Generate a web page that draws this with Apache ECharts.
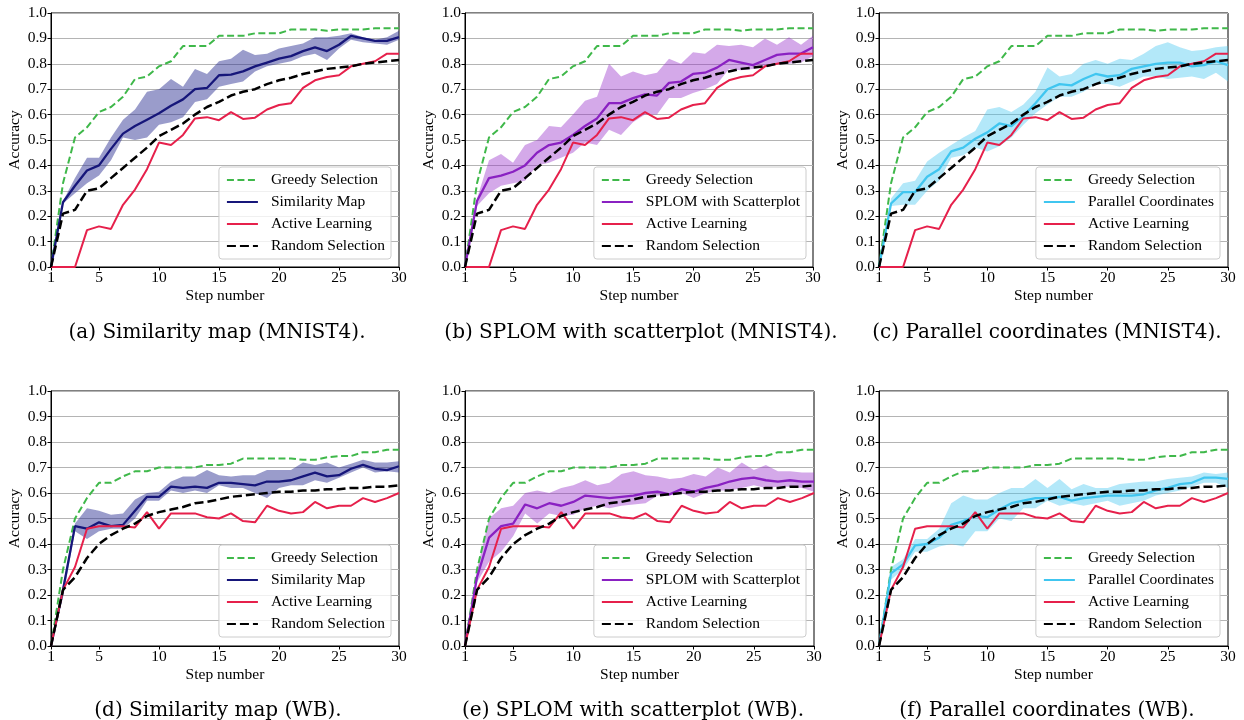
<!DOCTYPE html>
<html>
<head>
<meta charset="utf-8">
<script src="https://cdn.jsdelivr.net/npm/echarts@6/dist/echarts.min.js"></script>
<style>
html,body{margin:0;padding:0;background:#fff;}
#chart{width:1244px;height:720px;}
</style>
</head>
<body>
<div id="chart"></div>
<script>
// ---------- DATA ----------
const steps = [1,2,3,4,5,6,7,8,9,10,11,12,13,14,15,16,17,18,19,20,21,22,23,24,25,26,27,28,29,30];
const xTicks = [1,5,10,15,20,25,30];

// MNIST4 shared baselines
const greedyMNIST = [0,0.33,0.51,0.55,0.61,0.63,0.67,0.74,0.75,0.79,0.81,0.87,0.87,0.87,0.91,0.91,0.91,0.92,0.92,0.92,0.935,0.935,0.935,0.93,0.935,0.935,0.935,0.94,0.94,0.94];
const activeMNIST = [0,0,0,0.145,0.16,0.15,0.245,0.305,0.385,0.49,0.48,0.52,0.585,0.59,0.578,0.61,0.583,0.588,0.62,0.638,0.645,0.705,0.735,0.748,0.755,0.79,0.80,0.81,0.84,0.84];
const randomMNIST = [0,0.21,0.225,0.30,0.31,0.35,0.39,0.43,0.47,0.515,0.54,0.565,0.60,0.63,0.65,0.675,0.69,0.70,0.72,0.735,0.745,0.76,0.77,0.78,0.785,0.79,0.80,0.805,0.81,0.815];

// (a) Similarity map MNIST4
const simMNIST   = [0,0.255,0.32,0.38,0.40,0.465,0.525,0.555,0.58,0.605,0.635,0.66,0.70,0.705,0.755,0.757,0.77,0.79,0.805,0.82,0.83,0.85,0.865,0.85,0.875,0.91,0.90,0.89,0.89,0.905];
const simMNISTLo = [0,0.25,0.29,0.33,0.36,0.42,0.51,0.50,0.51,0.56,0.57,0.59,0.65,0.66,0.71,0.72,0.73,0.77,0.79,0.80,0.81,0.83,0.84,0.815,0.86,0.895,0.885,0.88,0.875,0.895];
const simMNISTHi = [0,0.26,0.35,0.43,0.43,0.51,0.58,0.62,0.69,0.70,0.74,0.71,0.78,0.76,0.81,0.82,0.855,0.835,0.84,0.86,0.87,0.88,0.905,0.905,0.91,0.92,0.905,0.895,0.905,0.93];

// (b) SPLOM MNIST4
const splomMNIST   = [0,0.26,0.35,0.36,0.375,0.40,0.45,0.48,0.49,0.52,0.555,0.585,0.645,0.645,0.665,0.68,0.675,0.725,0.73,0.76,0.765,0.785,0.815,0.805,0.795,0.815,0.835,0.84,0.84,0.865];
const splomMNISTLo = [0,0.24,0.29,0.32,0.33,0.34,0.40,0.41,0.43,0.45,0.49,0.48,0.54,0.52,0.57,0.60,0.60,0.665,0.665,0.685,0.70,0.72,0.78,0.775,0.78,0.79,0.80,0.80,0.805,0.83];
const splomMNISTHi = [0,0.27,0.42,0.445,0.41,0.48,0.50,0.555,0.55,0.60,0.655,0.67,0.80,0.75,0.77,0.755,0.765,0.82,0.80,0.845,0.84,0.875,0.87,0.875,0.865,0.90,0.875,0.905,0.875,0.91];

// (c) Parallel coordinates MNIST4
const pcMNIST   = [0,0.25,0.295,0.295,0.355,0.385,0.455,0.47,0.505,0.53,0.565,0.555,0.595,0.645,0.70,0.72,0.715,0.74,0.76,0.75,0.755,0.78,0.79,0.80,0.805,0.805,0.79,0.795,0.81,0.795];
const pcMNISTLo = [0,0.24,0.245,0.245,0.30,0.34,0.43,0.44,0.47,0.455,0.475,0.51,0.56,0.605,0.64,0.67,0.67,0.69,0.72,0.72,0.71,0.73,0.75,0.75,0.74,0.745,0.75,0.74,0.765,0.73];
const pcMNISTHi = [0,0.27,0.33,0.34,0.415,0.45,0.48,0.51,0.535,0.62,0.63,0.61,0.64,0.69,0.785,0.75,0.76,0.80,0.815,0.80,0.82,0.815,0.84,0.87,0.885,0.865,0.85,0.855,0.865,0.87];

// WB shared baselines
const greedyWB = [0,0.30,0.50,0.58,0.64,0.64,0.665,0.685,0.685,0.70,0.70,0.70,0.70,0.71,0.71,0.715,0.735,0.735,0.735,0.735,0.735,0.73,0.73,0.74,0.745,0.745,0.76,0.76,0.77,0.77];
const activeWB = [0,0.22,0.31,0.46,0.47,0.47,0.47,0.465,0.525,0.46,0.52,0.52,0.52,0.505,0.50,0.52,0.49,0.485,0.55,0.53,0.52,0.525,0.565,0.54,0.55,0.55,0.58,0.565,0.58,0.60];
const randomWB = [0,0.22,0.27,0.345,0.40,0.435,0.46,0.48,0.51,0.525,0.535,0.545,0.56,0.565,0.575,0.585,0.59,0.595,0.60,0.605,0.605,0.61,0.61,0.615,0.615,0.62,0.62,0.625,0.625,0.63];

// (d) Similarity map WB
const simWB   = [0,0.22,0.47,0.46,0.485,0.47,0.475,0.53,0.585,0.585,0.625,0.62,0.625,0.62,0.64,0.64,0.635,0.63,0.645,0.645,0.65,0.665,0.68,0.665,0.67,0.695,0.71,0.695,0.69,0.705];
const simWBLo = [0,0.19,0.45,0.42,0.45,0.46,0.46,0.50,0.57,0.57,0.61,0.60,0.61,0.60,0.63,0.62,0.62,0.60,0.58,0.62,0.63,0.63,0.65,0.64,0.66,0.68,0.70,0.68,0.685,0.68];
const simWBHi = [0,0.24,0.48,0.54,0.53,0.515,0.52,0.575,0.60,0.605,0.645,0.665,0.665,0.69,0.67,0.665,0.67,0.67,0.69,0.69,0.69,0.72,0.71,0.72,0.70,0.715,0.73,0.72,0.72,0.725];

// (e) SPLOM WB
const splomWB   = [0,0.27,0.425,0.47,0.48,0.555,0.54,0.56,0.55,0.565,0.59,0.585,0.58,0.585,0.59,0.60,0.605,0.595,0.615,0.605,0.62,0.63,0.645,0.655,0.66,0.65,0.645,0.65,0.645,0.645];
const splomWBLo = [0,0.25,0.33,0.37,0.43,0.52,0.48,0.52,0.51,0.515,0.54,0.55,0.54,0.55,0.555,0.56,0.59,0.59,0.60,0.58,0.60,0.61,0.61,0.62,0.63,0.62,0.625,0.625,0.62,0.605];
const splomWBHi = [0,0.30,0.50,0.54,0.55,0.60,0.61,0.60,0.62,0.63,0.65,0.63,0.64,0.675,0.685,0.67,0.665,0.655,0.66,0.675,0.665,0.70,0.68,0.72,0.69,0.71,0.685,0.685,0.68,0.68];

// (f) Parallel coordinates WB
const pcWB   = [0,0.285,0.32,0.395,0.40,0.425,0.475,0.49,0.51,0.505,0.535,0.56,0.57,0.58,0.58,0.585,0.57,0.58,0.585,0.59,0.59,0.59,0.595,0.61,0.62,0.635,0.64,0.66,0.66,0.655];
const pcWBLo = [0,0.26,0.30,0.37,0.37,0.39,0.40,0.39,0.45,0.45,0.50,0.49,0.54,0.54,0.57,0.55,0.56,0.55,0.56,0.57,0.55,0.56,0.57,0.59,0.60,0.61,0.625,0.64,0.64,0.62];
const pcWBHi = [0,0.31,0.34,0.42,0.42,0.46,0.56,0.59,0.575,0.575,0.60,0.62,0.62,0.655,0.62,0.655,0.615,0.635,0.62,0.62,0.635,0.64,0.645,0.645,0.655,0.66,0.665,0.68,0.675,0.68];

const captions = [
  '(a) Similarity map (MNIST4).',
  '(b) SPLOM with scatterplot (MNIST4).',
  '(c) Parallel coordinates (MNIST4).',
  '(d) Similarity map (WB).',
  '(e) SPLOM with scatterplot (WB).',
  '(f) Parallel coordinates (WB).'
];
const methodNames = ['Similarity Map','SPLOM with Scatterplot','Parallel Coordinates'];
const seriesNames = ['Greedy Selection','Active Learning','Random Selection'];

// ---------- LAYOUT / STYLE ----------
const FONT = 'Liberation Serif';
const methodColors = ['#16167a','#8a21c2','#40c6f0'];
const bandColors = ['rgba(32,36,140,0.45)','rgba(148,40,200,0.40)','rgba(64,198,240,0.40)'];
const GREEN = '#3fb84a', RED = '#e6204b', BLACK = '#000';

const panels = [
  {m:0, main:simMNIST,   lo:simMNISTLo,   hi:simMNISTHi,   g:greedyMNIST, a:activeMNIST, r:randomMNIST},
  {m:1, main:splomMNIST, lo:splomMNISTLo, hi:splomMNISTHi, g:greedyMNIST, a:activeMNIST, r:randomMNIST},
  {m:2, main:pcMNIST,    lo:pcMNISTLo,    hi:pcMNISTHi,    g:greedyMNIST, a:activeMNIST, r:randomMNIST},
  {m:0, main:simWB,      lo:simWBLo,      hi:simWBHi,      g:greedyWB, a:activeWB, r:randomWB},
  {m:1, main:splomWB,    lo:splomWBLo,    hi:splomWBHi,    g:greedyWB, a:activeWB, r:randomWB},
  {m:2, main:pcWB,       lo:pcWBLo,       hi:pcWBHi,       g:greedyWB, a:activeWB, r:randomWB}
];
const gridPos = [
  {left:51,  top:13,  width:348, height:254},
  {left:465, top:13,  width:348, height:254},
  {left:879, top:13,  width:349, height:254},
  {left:51,  top:391, width:348, height:255},
  {left:465, top:391, width:349, height:255},
  {left:879, top:391, width:349, height:255}
];
const legendRight = [853, 438, 24, 853, 438, 24];
const legendBottom = [461, 461, 461, 83, 83, 83];
const captionX = [212, 636, 1042, 213, 628, 1042];
const captionY = [318, 318, 318, 696, 696, 696];

const isTick = (idx) => xTicks.indexOf(steps[idx]) >= 0;

const option = {
  animation: false,
  backgroundColor: '#fff',
  textStyle: {fontFamily: FONT, color: '#000'},
  grid: [], xAxis: [], yAxis: [], series: [], legend: [], title: []
};

panels.forEach((p, k) => {
  const gp = gridPos[k];
  option.grid.push({left: gp.left, top: gp.top, width: gp.width, height: gp.height,
    show: true, borderColor: '#000', borderWidth: 1, backgroundColor: 'transparent', containLabel: false});
  option.xAxis.push({
    type: 'category', gridIndex: k, data: steps, boundaryGap: false,
    name: 'Step number', nameLocation: 'middle', nameGap: 21,
    nameTextStyle: {fontFamily: FONT, fontSize: 15.5, color: '#000'},
    axisLine: {show: true, onZero: false, lineStyle: {color: '#000', width: 1}},
    axisTick: {show: true, length: 3.5, lineStyle: {color: '#000'}, interval: (i) => isTick(i)},
    axisLabel: {fontFamily: FONT, fontSize: 15.5, color: '#000', margin: 3, interval: (i) => isTick(i)},
    splitLine: {show: false}
  });
  option.yAxis.push({
    type: 'value', gridIndex: k, min: 0, max: 1, interval: 0.1,
    name: 'Accuracy', nameLocation: 'middle', nameGap: 28,
    nameTextStyle: {fontFamily: FONT, fontSize: 15.5, color: '#000'},
    axisLine: {show: true, lineStyle: {color: '#000', width: 1}},
    axisTick: {show: true, length: 3.5, lineStyle: {color: '#000'}},
    axisLabel: {fontFamily: FONT, fontSize: 15.5, color: '#000', margin: 4, formatter: v => v.toFixed(1)},
    splitLine: {show: true, lineStyle: {color: '#b4b4b4', width: 1}}
  });
  const mName = methodNames[p.m];
  const stackId = 'band' + k;
  option.series.push({
    name: 'bandLo' + k, type: 'line', xAxisIndex: k, yAxisIndex: k, stack: stackId,
    data: p.lo, symbol: 'none', lineStyle: {opacity: 0, width: 0}, silent: true, z: 1
  });
  option.series.push({
    name: 'bandHi' + k, type: 'line', xAxisIndex: k, yAxisIndex: k, stack: stackId,
    data: p.hi.map((h, i) => +(h - p.lo[i]).toFixed(4)), symbol: 'none',
    lineStyle: {opacity: 0, width: 0}, areaStyle: {color: bandColors[p.m], opacity: 1}, silent: true, z: 1
  });
  option.series.push({
    name: seriesNames[0], type: 'line', xAxisIndex: k, yAxisIndex: k, data: p.g,
    symbol: 'none', lineStyle: {color: GREEN, width: 2, type: [7, 3.5]}, itemStyle: {color: GREEN}, z: 3
  });
  option.series.push({
    name: mName, type: 'line', xAxisIndex: k, yAxisIndex: k, data: p.main,
    symbol: 'none', lineStyle: {color: methodColors[p.m], width: 2.3}, itemStyle: {color: methodColors[p.m]}, z: 4
  });
  option.series.push({
    name: seriesNames[1], type: 'line', xAxisIndex: k, yAxisIndex: k, data: p.a,
    symbol: 'none', lineStyle: {color: RED, width: 2}, itemStyle: {color: RED}, z: 5
  });
  option.series.push({
    name: seriesNames[2], type: 'line', xAxisIndex: k, yAxisIndex: k, data: p.r,
    symbol: 'none', lineStyle: {color: BLACK, width: 2.5, type: [9, 4]}, itemStyle: {color: BLACK}, z: 6
  });
  option.legend.push({
    orient: 'vertical', right: legendRight[k], bottom: legendBottom[k],
    data: [seriesNames[0], mName, seriesNames[1], seriesNames[2]],
    itemWidth: 31, itemHeight: 14, itemGap: 6,
    padding: [5, 6, 5, 7],
    itemStyle: {color: 'transparent', borderColor: 'transparent', borderWidth: 0, opacity: 0},
    backgroundColor: 'rgba(255,255,255,0.8)', borderColor: '#cccccc', borderWidth: 1, borderRadius: 3,
    textStyle: {fontFamily: FONT, fontSize: 15.5, color: '#000', lineHeight: 16, padding: [0, 0, 0, 8]},
    selectedMode: false, z: 10
  });
  option.title.push({
    text: captions[k], left: captionX[k], top: captionY[k], textAlign: 'center',
    textStyle: {fontFamily: 'DejaVu Serif', fontSize: 20, fontWeight: 'normal', color: '#000'}
  });
});

const chart = echarts.init(document.getElementById('chart'), null, {renderer: 'canvas'});
chart.setOption(option);
</script>
</body>
</html>
